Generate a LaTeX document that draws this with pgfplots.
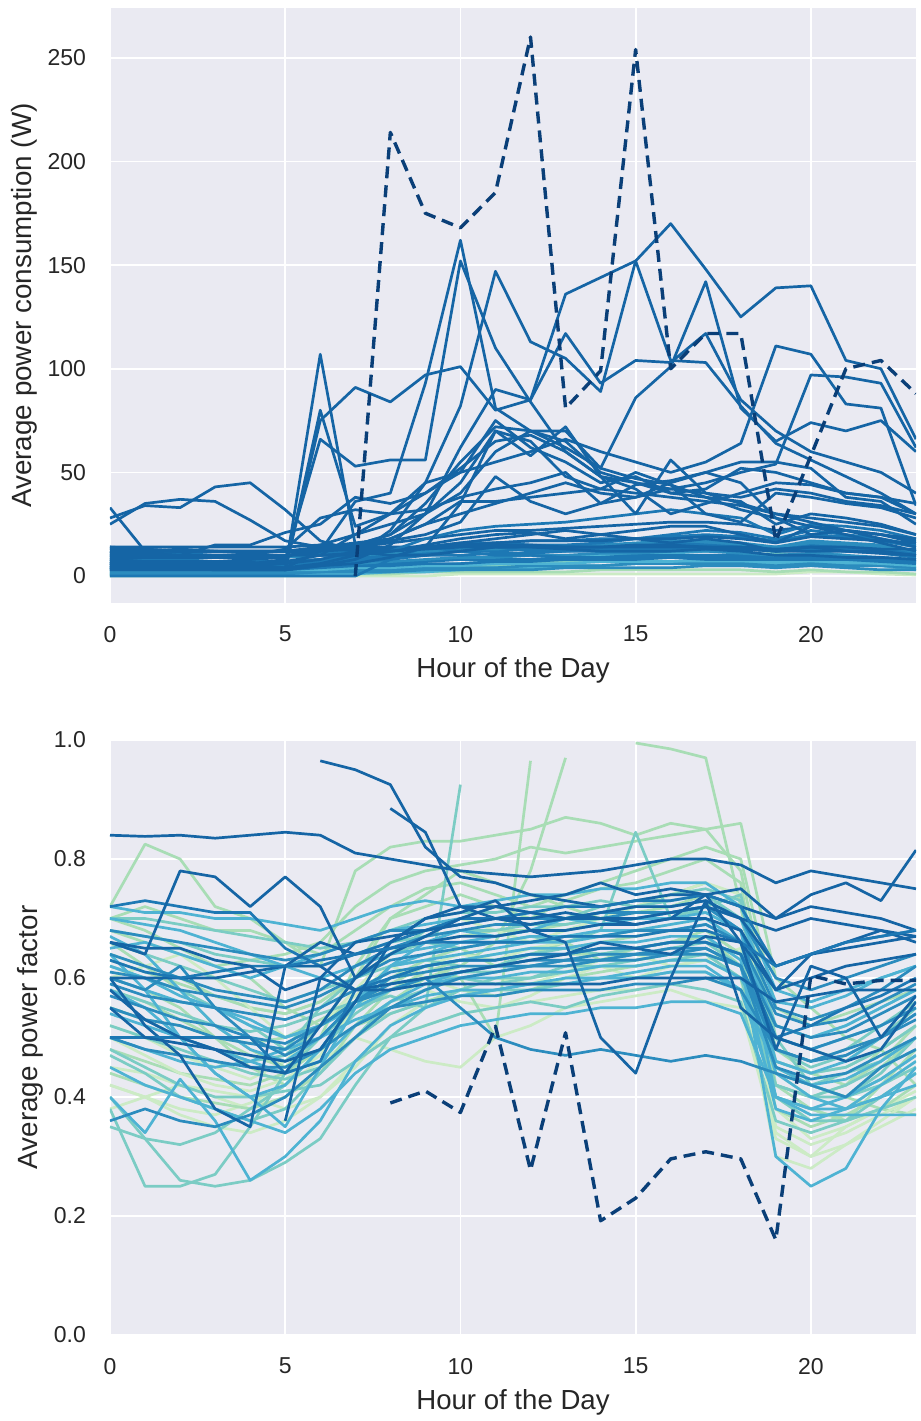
\documentclass[border=0pt]{standalone}
\usepackage{pgfplots}
\usepackage{pgfplotstable}
\pgfplotsset{compat=1.18}
\usepackage{fontspec}
\setmainfont{Liberation Sans}
\definecolor{bg}{HTML}{EAEAF2}
\definecolor{txt}{HTML}{262626}
\definecolor{ga}{HTML}{CCEBC5}
\definecolor{gb}{HTML}{A8DDB5}
\definecolor{gc}{HTML}{7BCCC4}
\definecolor{gd}{HTML}{4EB3D3}
\definecolor{ge}{HTML}{2B8CBE}
\definecolor{gf}{HTML}{1D78B4}
\definecolor{gg}{HTML}{1565A5}
\definecolor{dsh}{HTML}{0A3F78}

\pgfplotstableread{
name 0 1 2 3 4 5 6 7 8 9 10 11 12 13 14 15 16 17 18 19 20 21 22 23
B15 0 0 0 0 0 0 0 0 0 0 1 1 1 1 1 1 1 1 1 1 2 2 1 0.5
B14 0.5 0.5 0.5 0.5 0.5 0.5 1 1 1 2 2 2 2 2 3 3 3 3 3 2 3 2 2 1
B16 2 2 2 2 2 2 2 2 3 3 4 5 6 7 8 8 9 9 10 11 10 9 6 4
B20 1 1 1 1 1 1 1 1 2 2 3 4 4 5 5 6 6 7 7 6 7 6 5 3
B17 4 3 3 3 3 3 3 3 4 5 6 7 8 9 10 10 11 12 12 14 12 10 8 6
B10 1 1 1 1 1 1 2 2 2 3 3 3 3 4 4 4 4 5 5 4 5 4 3 3
B9 2 2 2 2 2 2 2 3 3 4 4 4 5 5 5 6 6 6 6 5 6 5 5 4
B8 3 3 3 3 3 3 3 4 4 5 5 6 6 6 7 7 7 8 8 7 8 7 6 5
B19 7 7 6 6 6 6 7 8 9 11 12 13 13 14 15 16 17 17 16 14 17 16 15 12
B7 4 4 4 3 3 3 4 5 5 6 6 7 7 8 8 8 9 9 9 8 9 8 7 6
B6 5 5 4 4 4 4 5 5 6 7 8 8 8 9 9 10 10 10 10 9 10 9 8 7
B5 6 5 5 5 5 5 6 6 7 8 9 9 10 10 11 11 12 12 11 10 11 10 9 8
B4 7 6 6 6 6 6 7 8 9 10 10 11 11 12 12 13 13 13 13 12 13 12 11 9
B3 8 8 8 7 7 7 8 9 10 11 12 12 13 13 14 14 14 15 14 13 15 14 13 11
B2 10 10 9 9 9 9 10 10 11 12 13 13 14 14 15 15 16 16 15 14 16 15 14 12
B1 12 11 11 10 10 10 11 12 13 14 15 16 17 17 18 18 19 20 19 17 20 19 17 14
B11 14 13 12 12 12 12 13 14 16 18 20 22 22 23 24 25 26 26 25 22 24 22 20 17
B12 9 7 7 7 7 7 8 10 12 14 16 16 15 15 16 18 20 22 21 18 22 20 18 15
B13 6 6 6 6 6 6 6 7 8 10 12 14 12 12 13 14 16 15 14 12 14 13 12 10
B18 11 11 10 10 10 10 10 11 12 15 18 20 21 18 20 22 24 24 20 16 24 22 20 16
B21 0 0 0 0 0 0 0 0 8 14 12 10 10 9 9 9 9 8 8 8 8 8 8 7
B22 13 12 12 12 12 12 12 13 13 14 14 14 14 14 14 14 14 14 14 13 14 14 13 13
U20 14 14 14 14 14 14 15 14 14 14 15 16 17 17 17 18 18 19 18 16 19 18 17 16
U19 4 4 4 4 4 5 8 10 12 18 22 24 25 26 28 30 32 30 28 20 25 24 22 18
U17 13 13 12 12 12 12 14 16 18 25 36 36 38 40 42 40 38 36 34 30 28 26 24 20
U18 11 12 12 12 11 12 13 15 17 20 26 48 36 30 35 44 46 50 45 28 20 22 20 18
U9 28 34 33 43 45 32 17 12 10 10 12 14 14 13 12 12 12 13 12 10 10 9 9 8
U10 33 12 13 12 12 12 10 10 12 14 16 18 20 22 20 18 16 18 16 12 14 12 12 10
U11 25 35 37 36 27 17 14 12 12 13 14 15 15 14 14 15 15 14 13 12 12 12 11 10
U14 10 10 10 15 15 21 25 38 35 40 52 65 68 60 48 42 30 35 40 45 44 40 38 35
U15 12 11 10 10 10 13 28 32 30 32 38 42 45 50 35 38 45 50 55 55 52 38 36 25
U16 9 9 9 9 8 9 15 20 25 30 45 70 58 72 48 30 56 40 38 42 40 36 34 30
U21 3 3 3 3 3 3 5 6 9 14 35 70 65 48 42 50 44 30 26 40 38 35 33 28
U12 8 7 7 7 7 3 107 15 20 30 40 60 70 65 50 45 40 38 36 25 30 28 25 20
U13 7 6 6 6 6 3 80 24 30 40 50 75 62 55 45 48 40 42 52 50 45 40 38 30
U7 6 6 6 6 6 7 10 20 30 45 50 55 60 66 60 55 50 55 64 111 107 83 81 34
U8 5 5 5 5 5 6 8 12 18 25 30 35 40 45 40 38 42 45 50 54 97 96 93 62
U6 10 9 9 9 9 10 12 15 20 35 55 72 70 70 52 86 101 142 81 65 74 70 75 60
U5 3 3 3 3 3 3 5 8 15 30 62 90 85 117 93 104 103 117 85 70 60 55 50 40
U4 4 4 4 4 4 4 6 10 22 45 82 147 113 105 89 152 104 103 82 64 56 48 40 30
U3 6 6 5 5 5 4 12 36 40 93 162 81 70 62 52 47 44 38 32 28 24 20 16 12
U2 8 7 6 6 6 8 66 53 56 56 152 110 84 60 48 45 42 40 35 30 26 22 18 14
U1 5 4 4 3 3 3 75 91 84 97 101 80 85 136 144 152 170 148 125 139 140 104 100 66
DS nan nan nan nan nan nan nan 0 214 175 168 185 260 81 99 254 100 117 117 17 58 100 104 88
}\topraw
\pgfplotstabletranspose[colnames from=name]\toptab{\topraw}

\pgfplotstableread{
name 0 1 2 3 4 5 6 7 8 9 10 11 12 13 14 15 16 17 18 19 20 21 22 23
L1 0.72 0.825 0.80 0.72 0.70 0.66 0.62 0.78 0.82 0.83 0.83 0.84 0.85 0.87 0.86 0.84 0.86 0.85 0.86 0.60 0.55 0.50 0.48 0.42
L2 0.45 0.44 0.42 0.40 0.38 0.40 0.45 0.50 0.55 0.58 0.56 0.55 0.57 0.60 0.62 0.60 0.62 0.63 0.60 0.40 0.36 0.38 0.42 0.45
L3 0.60 0.58 0.55 0.50 0.45 0.42 0.48 0.55 0.60 0.63 0.65 0.62 0.64 0.66 0.63 0.65 0.66 0.68 0.64 0.45 0.42 0.40 0.45 0.50
L4 0.52 0.50 0.47 0.45 0.43 0.46 0.52 0.57 0.62 0.60 0.58 0.60 0.59 0.61 0.63 0.64 0.62 0.63 0.65 0.38 0.33 0.35 0.38 0.41
L5 0.55 0.53 0.52 0.50 0.49 0.50 0.53 0.56 0.59 0.62 0.60 0.50 0.965 nan nan nan nan nan nan nan nan nan nan nan
L6 0.48 0.46 0.44 0.43 0.42 0.44 0.48 0.52 0.56 0.60 0.62 0.66 0.78 0.97 nan nan nan nan nan nan nan nan nan nan
L7 nan nan nan nan nan nan nan nan nan nan nan nan nan nan nan 0.995 0.985 0.97 0.72 0.45 0.42 0.40 0.38 0.37
L8 0.68 0.66 0.64 0.62 0.63 0.64 0.66 0.72 0.76 0.78 0.79 0.80 0.82 0.81 0.82 0.83 0.84 0.85 0.78 0.50 0.48 0.46 0.50 0.55
L9 0.42 0.40 0.38 0.37 0.39 0.42 0.46 0.50 0.48 0.46 0.45 0.50 0.52 0.55 0.56 0.57 0.58 0.56 0.55 0.33 0.30 0.35 0.38 0.40
L10 0.70 0.68 0.65 0.62 0.60 0.55 0.52 0.56 0.58 0.60 0.61 0.62 0.63 0.64 0.64 0.65 0.66 0.67 0.62 0.42 0.38 0.36 0.42 0.48
L11 0.38 0.40 0.42 0.41 0.40 0.38 0.40 0.45 0.52 0.56 0.58 0.60 0.60 0.61 0.62 0.62 0.63 0.64 0.60 0.30 0.28 0.32 0.36 0.40
L12 0.64 0.62 0.60 0.57 0.55 0.54 0.56 0.60 0.70 0.74 0.78 0.76 0.74 0.72 0.70 0.72 0.74 0.76 0.72 0.48 0.44 0.42 0.46 0.52
E1 0.66 0.62 0.58 0.52 0.48 0.45 0.50 0.62 0.70 0.72 0.74 0.72 0.70 0.73 0.75 0.76 0.78 0.80 0.76 0.42 0.40 0.42 0.48 0.52
E2 0.50 0.47 0.44 0.42 0.41 0.43 0.47 0.55 0.60 0.62 0.64 0.63 0.65 0.66 0.67 0.68 0.69 0.70 0.66 0.35 0.32 0.34 0.37 0.40
E3 0.70 0.72 0.70 0.68 0.68 0.66 0.64 0.68 0.72 0.75 0.76 0.74 0.72 0.74 0.76 0.78 0.80 0.82 0.80 0.55 0.52 0.54 0.56 0.58
E5 0.58 0.56 0.53 0.50 0.47 0.45 0.48 0.52 0.54 0.56 0.58 0.57 0.58 0.60 0.61 0.62 0.63 0.63 0.60 0.40 0.38 0.36 0.38 0.42
E8 0.42 0.40 0.37 0.35 0.34 0.36 0.40 0.46 0.50 0.52 0.54 0.55 0.56 0.57 0.58 0.58 0.59 0.60 0.58 0.34 0.30 0.32 0.35 0.38
E9 0.63 0.61 0.59 0.57 0.55 0.54 0.56 0.60 0.64 0.66 0.67 0.68 0.68 0.69 0.70 0.71 0.72 0.74 0.72 0.46 0.44 0.45 0.48 0.52
E12 0.44 0.42 0.40 0.39 0.38 0.40 0.44 0.52 0.58 0.61 0.63 0.64 0.65 0.65 0.66 0.67 0.68 0.68 0.64 0.38 0.35 0.37 0.40 0.44
E17 0.60 0.62 0.64 0.60 0.55 0.50 0.52 0.58 0.64 0.68 0.70 0.68 0.66 0.68 0.70 0.72 0.74 0.76 0.74 0.44 0.40 0.38 0.42 0.46
M1 0.40 0.33 0.26 0.25 0.26 0.29 0.33 0.42 0.50 0.55 0.58 0.60 0.60 0.62 0.62 0.63 0.64 0.64 0.60 0.42 0.40 0.42 0.45 0.48
M2 0.38 0.25 0.25 0.27 0.35 0.44 0.50 0.55 0.57 0.55 0.925 nan nan nan nan nan nan nan nan nan nan nan nan nan
M3 0.62 0.60 0.58 0.55 0.52 0.48 0.55 0.60 0.64 0.68 0.70 0.72 0.71 0.70 0.72 0.73 0.74 0.75 0.73 0.48 0.45 0.47 0.50 0.55
M4 0.55 0.53 0.50 0.48 0.46 0.47 0.52 0.60 0.64 0.66 0.65 0.66 0.67 0.66 0.68 0.845 0.70 0.72 0.74 0.50 0.42 0.40 0.44 0.50
M5 0.66 0.64 0.62 0.60 0.58 0.56 0.58 0.60 0.62 0.63 0.62 0.62 0.64 0.65 0.64 0.65 0.66 0.66 0.62 0.44 0.42 0.40 0.42 0.45
M6 0.48 0.45 0.42 0.40 0.40 0.41 0.42 0.46 0.50 0.52 0.54 0.55 0.56 0.55 0.57 0.58 0.59 0.58 0.56 0.36 0.34 0.36 0.38 0.40
M7 0.70 0.70 0.69 0.68 0.67 0.66 0.65 0.66 0.68 0.70 0.71 0.71 0.72 0.72 0.73 0.72 0.73 0.74 0.70 0.52 0.50 0.52 0.55 0.58
M8 0.58 0.56 0.54 0.52 0.51 0.52 0.54 0.56 0.58 0.60 0.60 0.61 0.62 0.62 0.63 0.63 0.64 0.64 0.62 0.46 0.44 0.45 0.48 0.52
E4 0.47 0.44 0.40 0.38 0.36 0.38 0.44 0.50 0.56 0.58 0.60 0.59 0.60 0.61 0.62 0.62 0.63 0.64 0.62 0.44 0.42 0.44 0.46 0.50
E6 0.68 0.67 0.66 0.64 0.63 0.62 0.62 0.64 0.66 0.67 0.68 0.68 0.69 0.69 0.70 0.70 0.71 0.71 0.68 0.48 0.46 0.48 0.52 0.56
E11 0.52 0.50 0.48 0.46 0.44 0.43 0.45 0.50 0.54 0.56 0.57 0.58 0.58 0.59 0.60 0.60 0.61 0.61 0.58 0.42 0.40 0.40 0.43 0.47
E16 0.35 0.33 0.32 0.34 0.38 0.42 0.48 0.54 0.58 0.60 0.61 0.61 0.62 0.63 0.64 0.64 0.65 0.66 0.64 0.40 0.36 0.36 0.40 0.44
N1 0.62 0.60 0.57 0.55 0.52 0.50 0.52 0.56 0.60 0.62 0.63 0.64 0.65 0.65 0.66 0.66 0.67 0.67 0.63 0.30 0.25 0.28 0.38 0.45
N2 0.40 0.34 0.43 0.36 0.26 0.30 0.36 0.46 0.52 0.55 0.57 0.58 0.59 0.60 0.60 0.61 0.62 0.62 0.58 0.40 0.38 0.38 0.40 0.42
N3 0.58 0.55 0.50 0.44 0.40 0.35 0.45 0.55 0.62 0.66 0.68 0.67 0.68 0.70 0.69 0.70 0.71 0.72 0.68 0.40 0.37 0.37 0.37 0.37
N4 0.65 0.66 0.64 0.62 0.60 0.62 0.64 0.66 0.68 0.69 0.70 0.70 0.71 0.70 0.71 0.72 0.72 0.73 0.70 0.56 0.55 0.57 0.60 0.62
N5 0.50 0.48 0.46 0.45 0.46 0.48 0.50 0.53 0.55 0.57 0.58 0.58 0.59 0.59 0.60 0.60 0.61 0.61 0.58 0.45 0.42 0.43 0.46 0.50
N6 0.72 0.71 0.71 0.70 0.70 0.69 0.68 0.70 0.72 0.73 0.72 0.73 0.74 0.74 0.75 0.75 0.76 0.76 0.72 0.58 0.56 0.58 0.60 0.62
N7 0.45 0.42 0.40 0.38 0.36 0.34 0.38 0.44 0.48 0.50 0.52 0.53 0.54 0.54 0.55 0.55 0.56 0.56 0.54 0.40 0.38 0.40 0.43 0.47
N8 0.60 0.58 0.56 0.55 0.53 0.50 0.52 0.55 0.58 0.59 0.60 0.60 0.61 0.61 0.62 0.62 0.63 0.63 0.60 0.50 0.48 0.50 0.52 0.55
E7 0.54 0.52 0.50 0.48 0.46 0.44 0.46 0.52 0.56 0.59 0.61 0.62 0.62 0.63 0.63 0.64 0.64 0.65 0.62 0.38 0.36 0.38 0.42 0.46
E10 0.70 0.69 0.68 0.66 0.64 0.62 0.60 0.62 0.64 0.65 0.66 0.66 0.67 0.67 0.68 0.68 0.69 0.70 0.66 0.52 0.50 0.52 0.55 0.58
E13 0.67 0.64 0.58 0.52 0.48 0.46 0.50 0.56 0.62 0.64 0.66 0.67 0.68 0.68 0.69 0.70 0.70 0.71 0.68 0.46 0.44 0.46 0.50 0.54
E18 0.64 0.58 0.50 0.44 0.40 0.42 0.48 0.56 0.62 0.63 0.64 0.65 0.66 0.66 0.67 0.68 0.68 0.69 0.66 0.44 0.40 0.38 0.40 0.44
P1 0.64 0.62 0.60 0.58 0.57 0.56 0.58 0.62 0.65 0.67 0.68 0.69 0.69 0.70 0.70 0.71 0.71 0.72 0.68 0.55 0.53 0.55 0.58 0.62
P2 0.55 0.53 0.52 0.50 0.49 0.48 0.52 0.56 0.60 0.61 0.62 0.62 0.63 0.63 0.64 0.64 0.65 0.65 0.62 0.45 0.43 0.44 0.47 0.50
P3 0.68 0.67 0.66 0.65 0.64 0.63 0.64 0.66 0.68 0.68 0.69 0.70 0.70 0.70 0.71 0.71 0.71 0.72 0.70 0.60 0.58 0.60 0.62 0.64
P4 0.50 0.48 0.47 0.46 0.45 0.45 0.48 0.52 0.55 0.56 0.57 0.57 0.58 0.58 0.58 0.59 0.59 0.60 0.58 0.48 0.46 0.47 0.50 0.53
P5 0.59 0.57 0.56 0.55 0.54 0.53 0.55 0.58 0.61 0.62 0.63 0.63 0.64 0.64 0.65 0.65 0.66 0.66 0.64 0.52 0.50 0.51 0.54 0.57
P6 0.36 0.38 0.36 0.35 0.37 0.40 0.45 0.50 0.55 0.58 0.60 0.61 0.62 0.62 0.63 0.63 0.64 0.64 0.62 0.50 0.48 0.50 0.52 0.55
P7 0.60 0.58 0.62 0.55 0.50 0.47 0.50 0.56 0.58 0.60 0.55 0.50 0.48 0.47 0.48 0.47 0.46 0.47 0.46 0.44 0.42 0.40 0.45 0.48
E14 0.61 0.60 0.58 0.57 0.56 0.55 0.57 0.60 0.63 0.64 0.65 0.66 0.66 0.67 0.67 0.68 0.68 0.69 0.66 0.54 0.52 0.53 0.56 0.59
E15 0.57 0.55 0.53 0.52 0.50 0.49 0.52 0.56 0.59 0.60 0.61 0.62 0.62 0.63 0.63 0.64 0.64 0.65 0.62 0.48 0.46 0.48 0.50 0.54
D1 0.84 0.838 0.84 0.835 0.84 0.845 0.84 0.81 0.80 0.79 0.78 0.775 0.77 0.775 0.78 0.79 0.80 0.80 0.79 0.76 0.78 0.77 0.76 0.75
D2 nan nan nan nan nan nan 0.965 0.95 0.925 0.82 0.77 0.76 0.74 0.73 0.72 0.73 0.74 0.74 0.72 0.70 0.72 0.71 0.70 0.68
D3 nan nan nan nan nan nan nan nan 0.885 0.845 0.72 0.70 0.69 0.70 0.71 0.72 0.72 0.73 0.70 0.68 0.70 0.69 0.68 0.67
D4 0.72 0.73 0.72 0.71 0.71 0.65 0.62 0.64 0.66 0.68 0.70 0.70 0.71 0.72 0.72 0.73 0.73 0.74 0.72 0.62 0.64 0.66 0.67 0.68
D5 0.66 0.64 0.78 0.77 0.72 0.77 0.72 0.60 0.64 0.67 0.70 0.72 0.73 0.74 0.76 0.74 0.75 0.74 0.75 0.70 0.74 0.76 0.73 0.815
D6 0.60 0.52 0.47 0.38 0.35 0.62 0.66 0.64 0.65 0.66 0.67 0.67 0.68 0.68 0.69 0.69 0.70 0.70 0.68 0.58 0.60 0.62 0.63 0.64
D7 0.50 0.50 0.50 0.50 0.50 0.44 0.46 0.58 0.60 0.62 0.63 0.63 0.64 0.64 0.65 0.65 0.66 0.66 0.64 0.50 0.52 0.55 0.57 0.60
D8 0.60 0.60 0.60 0.60 0.61 0.62 0.62 0.58 0.58 0.59 0.59 0.59 0.59 0.59 0.59 0.60 0.60 0.60 0.60 0.56 0.57 0.58 0.58 0.58
D9 0.58 0.53 0.50 0.48 0.45 0.44 0.52 0.60 0.66 0.70 0.72 0.72 0.71 0.70 0.70 0.69 0.70 0.74 0.66 0.58 0.64 0.66 0.68 0.66
D10 0.55 0.50 0.49 0.48 0.47 0.46 0.48 0.56 0.66 0.70 0.71 0.73 0.68 0.66 0.50 0.44 0.60 0.73 0.55 0.50 0.48 0.46 0.48 0.56
D11 nan nan nan nan nan 0.36 0.60 0.66 0.67 0.68 0.69 0.70 0.70 0.71 0.70 0.70 0.71 0.72 0.70 0.62 0.64 0.65 0.66 0.67
D12 0.63 0.61 0.60 0.61 0.62 0.62 0.63 0.64 0.65 0.66 0.66 0.66 0.66 0.67 0.67 0.67 0.68 0.68 0.66 0.62 0.64 0.66 0.67 0.68
D13 0.66 0.65 0.65 0.63 0.62 0.58 0.60 0.58 0.59 0.60 0.61 0.62 0.63 0.64 0.66 0.65 0.64 0.67 0.66 0.48 0.62 0.60 0.50 0.57
DS nan nan nan nan nan nan nan nan 0.39 0.41 0.374 0.519 0.277 0.508 0.192 0.23 0.296 0.308 0.296 0.16 0.604 0.59 0.596 0.596
}\botraw
\pgfplotstabletranspose[colnames from=name]\bottab{\botraw}

\pgfplotsset{
  sb/.style={
    scale only axis, width=403pt, height=297.5pt,
    axis background/.style={fill=bg},
    axis line style={draw=none},
    grid=major, major grid style={white, line width=0.9pt},
    major tick length=0pt,
    xmin=0, xmax=23, xtick={0,5,10,15,20},
    tick label style={font=\fontsize{11.5}{13}\selectfont, text=txt},
    label style={font=\fontsize{13.9}{16}\selectfont, text=txt},
    xlabel style={font=\fontsize{13.8}{16}\selectfont},
    xticklabel style={yshift=-8pt},
    yticklabel style={xshift=-8.5pt},
    xlabel style={at={([yshift=-23.5pt]axis description cs:0.5,0)}, anchor=north},
    /pgf/number format/assume math mode=true,
    every axis plot/.append style={line width=1.35pt, line join=round, mark=none},
  },
}
\newcommand{\TP}[2]{\addplot[#1] table[x=colnames, y=#2]{\toptab};}
\newcommand{\BP}[2]{\addplot[#1] table[x=colnames, y=#2]{\bottab};}

\begin{document}
\begin{tikzpicture}
\path[use as bounding box] (-55pt,4pt) rectangle (405.5pt,-706.5pt);
\begin{axis}[sb, at={(0,0)}, anchor=north west,
  ymin=-13, ymax=274, ytick={0,50,100,150,200,250},
  xlabel={Hour of the Day}, ylabel={Average power consumption (W)},
  ylabel style={at={([xshift=-33pt]axis description cs:0,0.5)}, anchor=south}]
\TP{ga}{B15}
\TP{gb}{B14}
\TP{gc}{B16}
\TP{gd}{B20}
\TP{gd}{B17}
\TP{ge}{B10}
\TP{ge}{B9}
\TP{gd}{B8}
\TP{ge}{B19}
\TP{gf}{B7}
\TP{gf}{B6}
\TP{ge}{B5}
\TP{gf}{B4}
\TP{gf}{B3}
\TP{ge}{B2}
\TP{gf}{B1}
\TP{gg}{B11}
\TP{gf}{B12}
\TP{gf}{B13}
\TP{gg}{B18}
\TP{gf}{B21}
\TP{gg}{B22}
\TP{gg}{U20}
\TP{gf}{U19}
\TP{gg}{U17}
\TP{gg}{U18}
\TP{gg}{U9}
\TP{gg}{U10}
\TP{gg}{U11}
\TP{gg}{U14}
\TP{gg}{U15}
\TP{gg}{U16}
\TP{gg}{U21}
\TP{gg}{U12}
\TP{gg}{U13}
\TP{gg}{U7}
\TP{gg}{U8}
\TP{gg}{U6}
\TP{gg}{U5}
\TP{gg}{U4}
\TP{gg}{U3}
\TP{gg}{U2}
\TP{gg}{U1}
\TP{dsh, line width=1.7pt, dash pattern=on 6pt off 3.5pt}{DS}
\end{axis}
\begin{axis}[sb, at={(0,-366pt)}, anchor=north west,
  ymin=0, ymax=1, ytick={0,0.2,0.4,0.6,0.8,1},
  yticklabel style={/pgf/number format/fixed, /pgf/number format/fixed zerofill, /pgf/number format/precision=1},
  xlabel={Hour of the Day}, ylabel={Average power factor},
  ylabel style={at={([xshift=-30pt]axis description cs:0,0.5)}, anchor=south}]
\BP{gb}{L1}
\BP{ga}{L2}
\BP{gb}{L3}
\BP{ga}{L4}
\BP{gb}{L5}
\BP{gb}{L6}
\BP{gb}{L7}
\BP{gb}{L8}
\BP{ga}{L9}
\BP{gb}{L10}
\BP{ga}{L11}
\BP{gb}{L12}
\BP{gb}{E1}
\BP{ga}{E2}
\BP{gb}{E3}
\BP{gb}{E5}
\BP{ga}{E8}
\BP{gb}{E9}
\BP{gb}{E12}
\BP{ga}{E17}
\BP{gc}{M1}
\BP{gc}{M2}
\BP{gc}{M3}
\BP{gc}{M4}
\BP{gc}{M5}
\BP{gc}{M6}
\BP{gc}{M7}
\BP{gc}{M8}
\BP{gc}{E4}
\BP{gc}{E6}
\BP{gc}{E11}
\BP{gc}{E16}
\BP{gd}{N1}
\BP{gd}{N2}
\BP{gd}{N3}
\BP{gd}{N4}
\BP{gd}{N5}
\BP{gd}{N6}
\BP{gd}{N7}
\BP{gd}{N8}
\BP{gd}{E7}
\BP{gd}{E10}
\BP{gd}{E13}
\BP{gd}{E18}
\BP{ge}{P1}
\BP{ge}{P2}
\BP{ge}{P3}
\BP{ge}{P4}
\BP{ge}{P5}
\BP{ge}{P6}
\BP{ge}{P7}
\BP{ge}{E14}
\BP{ge}{E15}
\BP{gg}{D1}
\BP{gg}{D2}
\BP{gg}{D3}
\BP{gf}{D4}
\BP{gg}{D5}
\BP{gg}{D6}
\BP{gf}{D7}
\BP{gg}{D8}
\BP{gg}{D9}
\BP{gg}{D10}
\BP{gg}{D11}
\BP{gf}{D12}
\BP{gg}{D13}
\BP{dsh, line width=1.7pt, dash pattern=on 6pt off 3.5pt}{DS}
\end{axis}
\end{tikzpicture}
\end{document}
